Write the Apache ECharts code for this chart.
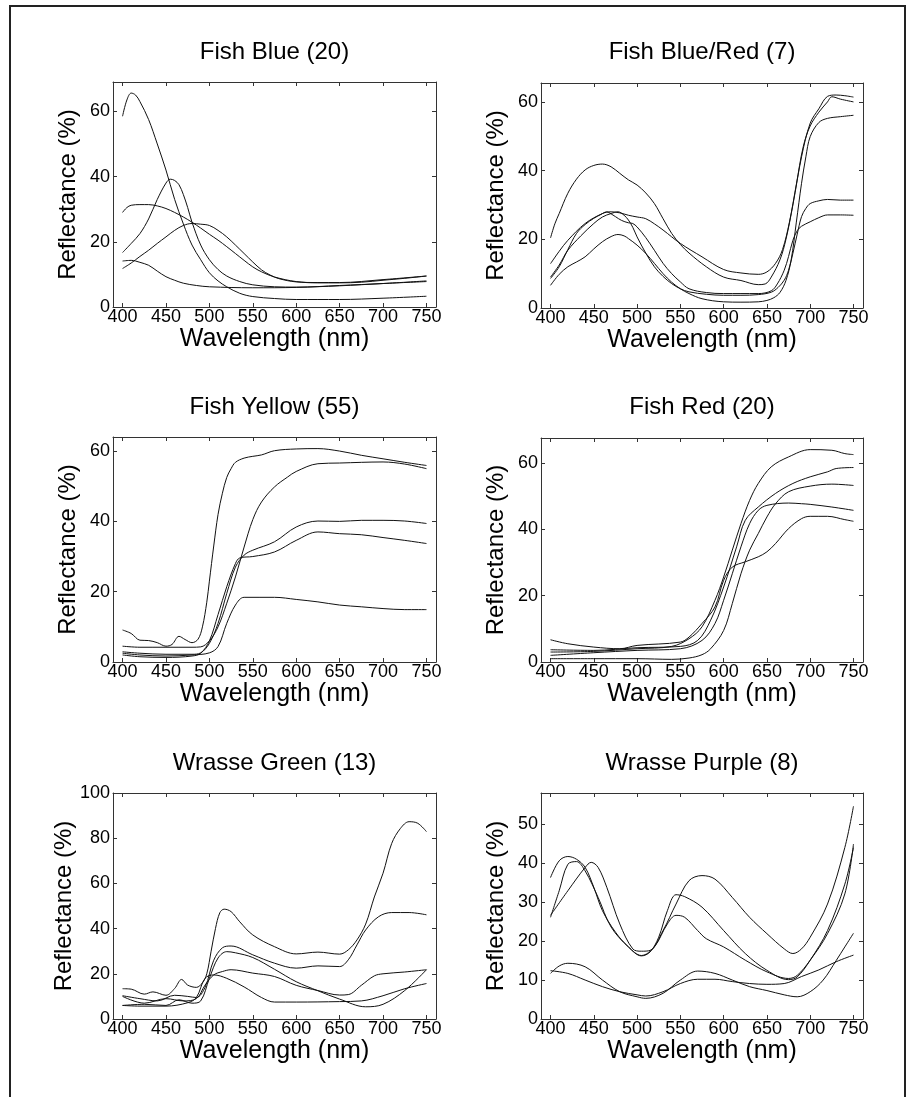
<!DOCTYPE html>
<html>
<head>
<meta charset="utf-8">
<script src="https://cdn.jsdelivr.net/npm/echarts@6/dist/echarts.min.js"></script>
<style>
html,body{margin:0;padding:0;background:#fff;}
#chart{width:912px;height:1097px;}
</style>
</head>
<body>
<div id="chart"></div>
<script>
// ---- tick labels ----
const wavelengthTicks = [400, 450, 500, 550, 600, 650, 700, 750];
const yTicksFishBlue = [0, 20, 40, 60];
const yTicksFishBlueRed = [0, 20, 40, 60];
const yTicksFishYellow = [0, 20, 40, 60];
const yTicksFishRed = [0, 20, 40, 60];
const yTicksWrasseGreen = [0, 20, 40, 60, 80, 100];
const yTicksWrassePurple = [0, 10, 20, 30, 40, 50];

// ---- titles ----
const panelTitles = ['Fish Blue (20)', 'Fish Blue/Red (7)', 'Fish Yellow (55)', 'Fish Red (20)', 'Wrasse Green (13)', 'Wrasse Purple (8)'];

// ---- Fish Blue: [wavelength nm, reflectance %] ----
const fishBlue1 = [[400,58.5],[405,63.5],[410,65.6],[415,65],[420,63],[430,57.5],[440,50],[450,42],[460,33],[470,25.5],[480,19],[490,14.5],[500,10.5],[510,8],[520,6.2],[535,4.2],[550,3.2],[575,2.6],[600,2.3],[650,2.3],[700,2.7],[750,3.3]];
const fishBlue2 = [[400,16.7],[410,19.5],[420,22.5],[430,27],[440,33],[450,38],[455,39.2],[460,38.8],[465,37.5],[470,34.5],[475,30.5],[480,26],[490,19],[500,14.5],[510,11.5],[520,9.5],[535,7.8],[550,6.8],[575,6.2],[600,6.1],[650,6.5],[700,7.2],[750,7.8]];
const fishBlue3 = [[400,29],[405,30.5],[410,31.2],[420,31.4],[430,31.4],[440,31],[450,30.2],[460,29],[470,27.6],[480,26],[490,24.2],[500,22.3],[510,20.5],[520,18.5],[530,16.4],[540,14.3],[550,12.3],[560,10.8],[575,9.2],[600,7.8],[625,7.4],[650,7.4],[675,7.6],[700,8.2],[725,8.8],[750,9.5]];
const fishBlue4 = [[400,11.8],[410,13.5],[420,15.5],[430,17.4],[440,19.5],[450,21.5],[460,23.5],[470,25],[480,25.6],[490,25.4],[500,25],[510,23.5],[520,21.5],[530,19],[540,16.4],[550,13.8],[560,11.4],[570,9.8],[580,8.7],[600,7.7],[625,7.5],[650,7.5],[700,8.4],[750,9.5]];
const fishBlue5 = [[400,14.1],[410,14.3],[415,14.1],[420,13.7],[430,12.8],[440,11],[450,9.3],[460,8.2],[470,7.3],[485,6.6],[500,6.2],[550,5.9],[600,6],[650,6.6],[700,7.2],[750,8]];

// ---- Fish Blue/Red ----
const fishBlueRed1 = [[400,20.4],[405,24.5],[410,27.5],[420,33.4],[430,37.5],[440,40.2],[450,41.5],[460,41.9],[470,41.1],[480,39.2],[490,37.3],[500,35.8],[510,33.5],[520,30.4],[530,26],[540,21.7],[550,18.5],[560,16],[580,12],[600,9],[620,8],[640,6.8],[648,7],[655,9],[665,14],[672,20],[680,30],[690,44],[700,53.8],[710,58],[720,61.6],[730,62],[740,61.8],[750,61.4]];
const fishBlueRed2 = [[400,12.9],[410,16.5],[420,19.7],[440,24.6],[460,27.5],[470,28],[480,27.7],[490,27],[500,26.5],[510,26],[520,24.5],[530,22.7],[550,18.8],[575,14.9],[600,11.2],[620,10.2],[640,9.8],[650,10.5],[660,13],[668,17],[676,25],[684,36],[692,47],[700,53],[710,57],[720,60],[725,61.5],[735,60.8],[750,60]];
const fishBlueRed3 = [[400,9],[410,12.5],[420,16.8],[435,21],[450,24.6],[460,26.5],[470,27.5],[478,28],[485,27],[490,25.6],[495,23.5],[500,20.7],[510,16],[520,12],[530,9.2],[540,7.1],[550,5.6],[560,4.7],[580,4],[600,3.7],[620,3.7],[640,3.9],[655,4.6],[663,6],[670,8.1],[675,11],[680,15.9],[685,21.5],[690,26.6],[695,29],[700,30.4],[710,31.2],[720,31.6],[735,31.4],[750,31.4]];
const fishBlueRed4 = [[400,8.6],[410,12],[420,17],[430,21.7],[440,24.3],[450,26.1],[458,27.2],[465,28],[470,27.4],[475,26.6],[482,25.5],[490,24.8],[495,24.6],[500,23.6],[510,20.5],[520,16.8],[530,13],[540,10],[550,7.6],[560,5.6],[580,4.5],[600,4.2],[620,4.2],[640,4.2],[655,5],[662,7],[670,11],[675,15],[680,19.7],[685,22.5],[690,23.8],[700,25.1],[710,26.3],[720,27.1],[735,27.1],[750,27]];
const fishBlueRed5 = [[400,6.6],[410,9.8],[420,12],[430,13.4],[440,14.9],[450,17.2],[460,19.3],[470,20.8],[478,21.4],[485,21],[490,20.2],[500,18.3],[510,15.9],[520,13],[530,10],[540,7.5],[550,5.6],[560,4.2],[575,2.7],[600,1.8],[620,1.7],[640,1.8],[650,2.2],[658,3],[665,4.5],[672,8],[678,14],[684,25],[690,36.3],[695,44],[700,49.9],[710,54],[720,55.2],[735,55.7],[750,56.1]];

// ---- Fish Yellow ----
const fishYellow1 = [[400,9.1],[410,8.1],[420,6.2],[430,6.1],[440,5.5],[450,4.5],[457,5],[465,7.3],[472,6.4],[480,5.5],[487,6.5],[492,10],[497,17],[500,23],[505,33],[510,42],[515,48],[520,52.5],[525,55],[530,56.8],[540,58],[550,58.5],[560,58.9],[575,60.1],[600,60.6],[625,60.7],[650,60],[675,58.8],[700,57.8],[725,56.8],[750,55.9]];
const fishYellow2 = [[400,4.5],[420,4.2],[450,4.2],[480,4.2],[490,4.3],[500,6],[510,10],[520,16.7],[530,24.2],[540,32.7],[550,40.5],[560,45.5],[575,49.8],[590,52.6],[600,54.2],[625,56.4],[650,56.6],[700,56.9],[725,56.3],[750,55]];
const fishYellow3 = [[400,2.9],[420,2.5],[450,2.2],[480,2.2],[490,2.6],[500,5.3],[510,11],[520,19.5],[530,27],[540,30.4],[550,31.8],[575,34.2],[600,38.4],[625,40.1],[650,40],[675,40.3],[700,40.3],[725,40.1],[750,39.4]];
const fishYellow4 = [[400,2],[420,1.5],[450,1.3],[480,1.7],[490,2.5],[500,6],[510,13.5],[520,21.4],[530,28],[535,29.6],[550,30],[575,31.3],[600,34.6],[625,37],[650,36.5],[675,36.2],[700,35.4],[725,34.6],[750,33.7]];
const fishYellow5 = [[400,2.5],[420,2],[450,1.7],[480,2],[500,2.6],[510,4.4],[520,11],[530,16.2],[540,18.4],[575,18.4],[600,17.8],[625,17.1],[650,16.2],[675,15.7],[700,15.2],[725,14.9],[750,14.9]];

// ---- Fish Red ----
const fishRed1 = [[400,3],[450,3.2],[500,4],[540,4.7],[560,7],[575,10.6],[590,18.6],[600,25.6],[610,33.7],[620,41.7],[630,48.7],[640,53.8],[655,58.8],[675,61.8],[700,64],[725,63.8],[740,62.8],[750,62.5]];
const fishRed2 = [[400,3.7],[450,3.5],[500,4.3],[550,4.7],[570,6.5],[585,12.6],[600,22.6],[615,34.7],[625,42.7],[640,46.7],[660,50.8],[680,53.8],[700,55.8],[720,57.3],[730,58.3],[750,58.6]];
const fishRed3 = [[400,2],[450,2.8],[500,3.5],[550,4],[575,6.5],[590,11.6],[600,18.6],[610,26.6],[620,34.7],[630,41.7],[640,45.7],[650,47.2],[675,47.9],[690,47.7],[700,47.5],[725,46.7],[750,45.7]];
const fishRed4 = [[400,1],[450,1],[500,1],[540,0.8],[560,1.2],[575,2.2],[585,4],[600,9.5],[610,17.6],[620,26.6],[630,33.7],[640,38.7],[650,43.7],[660,47.7],[675,51.3],[700,53],[725,53.6],[750,53.2]];
const fishRed5 = [[400,6.7],[420,5.5],[450,4.5],[480,4],[500,5],[550,6],[560,7.5],[575,11.6],[590,16.6],[600,24.6],[610,28.6],[625,30.2],[640,31.7],[650,33.2],[660,35.7],[675,40.2],[690,43.2],[700,43.9],[720,43.9],[740,42.9],[750,42.4]];

// ---- Wrasse Green ----
const wrasseGreen1 = [[400,13.4],[410,13.2],[425,11],[435,12],[450,10.5],[460,13.5],[468,17.5],[475,15],[485,14],[492,16],[497,20],[502,30],[507,40],[512,47],[517,48.6],[525,47.5],[535,43],[550,37.2],[575,32],[600,28.8],[625,29.6],[650,28.7],[660,30.6],[670,35],[680,42],[690,54],[700,64.5],[710,77.7],[720,84.3],[730,87.3],[740,86.6],[750,82.9]];
const wrasseGreen2 = [[400,10.3],[420,9],[440,8],[460,10.5],[475,10],[485,9.5],[495,14],[505,26],[515,31.5],[525,32.3],[550,28.4],[575,24.7],[600,22.5],[625,23.5],[650,23.2],[660,26.2],[670,32.8],[680,39.4],[695,45.3],[710,47.1],[730,47.1],[750,46.1]];
const wrasseGreen3 = [[400,6],[425,6.5],[450,6],[465,8.5],[480,7],[490,8],[500,18],[510,27],[520,29.8],[530,29.3],[550,27.2],[575,22],[600,16.5],[625,12.5],[650,8.8],[680,5.4],[700,6.5],[725,12.6],[750,21.8]];
const wrasseGreen4 = [[400,10],[425,7],[450,9],[470,8],[485,9],[495,15],[505,19.5],[515,21],[525,21.8],[550,20.3],[575,18.8],[600,14.9],[625,12.6],[650,10.6],[660,10.8],[675,14.9],[690,19.1],[700,20],[725,20.8],[750,21.8]];
const wrasseGreen5 = [[400,6],[420,5.7],[450,5.7],[475,7.2],[485,9.5],[495,18],[505,19.5],[520,18],[540,14.2],[560,9.5],[575,7.5],[600,7.5],[650,7.7],[675,8],[700,10.3],[725,13.4],[750,15.7]];

// ---- Wrasse Purple ----
const wrassePurple1 = [[400,36.3],[410,40.6],[420,41.7],[430,41],[440,38.9],[450,33.8],[460,27.8],[475,22.3],[490,18.5],[505,16.2],[515,17.2],[525,21],[535,27.8],[545,31.9],[555,31.4],[575,28.7],[600,22.7],[625,16.8],[650,12.5],[675,10.1],[685,10.8],[700,15.1],[720,22.7],[740,34.6],[750,44]];
const wrassePurple2 = [[400,26.1],[410,32.9],[420,39.7],[430,40.4],[440,38],[455,31.2],[470,23.6],[490,18.5],[505,16.3],[520,18.5],[535,24.4],[545,26.6],[555,26.1],[570,22.7],[580,20.6],[600,18.5],[625,15.1],[650,12.1],[675,10.4],[685,11.2],[700,15.1],[720,21.9],[740,32.1],[750,44.9]];
const wrassePurple3 = [[400,26.6],[420,32.9],[440,38.9],[447,40.2],[455,38.9],[465,33.8],[480,24.4],[495,18],[505,17.4],[515,17.6],[530,22.7],[545,29.5],[560,35.5],[575,36.8],[590,35.9],[610,31.2],[630,26.1],[650,21.9],[670,18],[680,16.8],[690,18],[700,21],[720,29.5],[740,44],[750,54.6]];
const wrassePurple4 = [[400,11.7],[410,13.6],[420,14.3],[440,13.4],[460,10],[480,7],[500,5.7],[510,5.3],[530,6.6],[550,10],[570,12.3],[590,11.7],[610,10],[630,8.3],[650,7.3],[670,6.2],[685,5.7],[700,7],[715,10],[730,15],[740,18.5],[750,22]];
const wrassePurple5 = [[400,12.4],[420,11.7],[440,10],[460,8.3],[480,7],[500,6.2],[510,5.9],[530,7],[550,9.1],[570,10.2],[590,10.2],[610,9.6],[630,9.1],[650,8.9],[670,9.1],[690,10.9],[710,12.6],[730,14.7],[750,16.4]];

const panelCurves = [
  [fishBlue1, fishBlue2, fishBlue3, fishBlue4, fishBlue5],
  [fishBlueRed1, fishBlueRed2, fishBlueRed3, fishBlueRed4, fishBlueRed5],
  [fishYellow1, fishYellow2, fishYellow3, fishYellow4, fishYellow5],
  [fishRed1, fishRed2, fishRed3, fishRed4, fishRed5],
  [wrasseGreen1, wrasseGreen2, wrasseGreen3, wrasseGreen4, wrasseGreen5],
  [wrassePurple1, wrassePurple2, wrassePurple3, wrassePurple4, wrassePurple5]
];
const panelYTicks = [yTicksFishBlue, yTicksFishBlueRed, yTicksFishYellow, yTicksFishRed, yTicksWrasseGreen, yTicksWrassePurple];
const panelYMax = [69, 65.5, 64, 67.5, 100, 58];

// ---- layout (pixels) ----
const gridBoxes = [
  {left:113, top:82,  width:323, height:225},
  {left:541, top:83,  width:322, height:225},
  {left:113, top:437, width:323, height:225},
  {left:541, top:438, width:322, height:224},
  {left:113, top:793, width:323, height:226},
  {left:541, top:793, width:322, height:226}
];
const titleY = [52.5, 52.5, 407, 407, 763, 763];

const FONT = "'Liberation Sans', Arial, Helvetica, sans-serif";
const AXIS_COLOR = '#333';

const grids = [], xAxes = [], yAxes = [], series = [], graphics = [];
const N = 6;
for (let i = 0; i < N; i++) {
  const b = gridBoxes[i];
  grids.push({left:b.left, top:b.top, width:b.width, height:b.height, containLabel:false});
}
// bottom x axes
for (let i = 0; i < N; i++) {
  xAxes.push({
    type:'value', gridIndex:i, position:'bottom', min:389, max:761,
    name:'Wavelength (nm)', nameLocation:'middle', nameGap:19,
    nameTextStyle:{fontFamily:FONT, fontSize:25, color:'#000'},
    axisLine:{show:true, onZero:false, lineStyle:{color:AXIS_COLOR, width:1}},
    axisTick:{show:true, inside:true, length:4, customValues:wavelengthTicks, lineStyle:{color:AXIS_COLOR}},
    axisLabel:{show:true, margin:1, customValues:wavelengthTicks, fontFamily:FONT, fontSize:18, color:'#000'},
    splitLine:{show:false}
  });
}
// top x axes (frame)
for (let i = 0; i < N; i++) {
  xAxes.push({
    type:'value', gridIndex:i, position:'top', min:389, max:761,
    axisLine:{show:true, onZero:false, lineStyle:{color:AXIS_COLOR, width:1}},
    axisTick:{show:true, inside:true, length:4, customValues:wavelengthTicks, lineStyle:{color:AXIS_COLOR}},
    axisLabel:{show:false}, splitLine:{show:false}
  });
}
// left y axes
for (let i = 0; i < N; i++) {
  yAxes.push({
    type:'value', gridIndex:i, position:'left', min:0, max:panelYMax[i],
    name:'Reflectance (%)', nameLocation:'middle', nameGap:33, nameRotate:90,
    nameTextStyle:{fontFamily:FONT, fontSize:24, color:'#000'},
    axisLine:{show:true, onZero:false, lineStyle:{color:AXIS_COLOR, width:1}},
    axisTick:{show:true, inside:true, length:4, customValues:panelYTicks[i], lineStyle:{color:AXIS_COLOR}},
    axisLabel:{show:true, margin:3, customValues:panelYTicks[i], fontFamily:FONT, fontSize:18, color:'#000'},
    splitLine:{show:false}
  });
}
// right y axes (frame)
for (let i = 0; i < N; i++) {
  yAxes.push({
    type:'value', gridIndex:i, position:'right', min:0, max:panelYMax[i],
    axisLine:{show:true, onZero:false, lineStyle:{color:AXIS_COLOR, width:1}},
    axisTick:{show:true, inside:true, length:4, customValues:panelYTicks[i], lineStyle:{color:AXIS_COLOR}},
    axisLabel:{show:false}, splitLine:{show:false}
  });
}
for (let i = 0; i < N; i++) {
  panelCurves[i].forEach(function (curve) {
    series.push({
      type:'line', xAxisIndex:i, yAxisIndex:i, data:curve,
      showSymbol:false, smooth:0.35, silent:true,
      lineStyle:{color:'#111', width:1}
    });
  });
  const b = gridBoxes[i];
  graphics.push({
    type:'text', x:b.left + b.width / 2, y:titleY[i],
    style:{text:panelTitles[i], fill:'#000', font:'24px ' + FONT, align:'center', verticalAlign:'middle'}
  });
}
graphics.push({
  type:'rect', shape:{x:10, y:6, width:895, height:1200},
  style:{fill:'none', stroke:'#222', lineWidth:2}
});

const chart = echarts.init(document.getElementById('chart'), null, {renderer:'canvas'});
chart.setOption({
  animation:false,
  backgroundColor:'#fff',
  grid:grids, xAxis:xAxes, yAxis:yAxes, series:series, graphic:graphics
});
</script>
</body>
</html>
